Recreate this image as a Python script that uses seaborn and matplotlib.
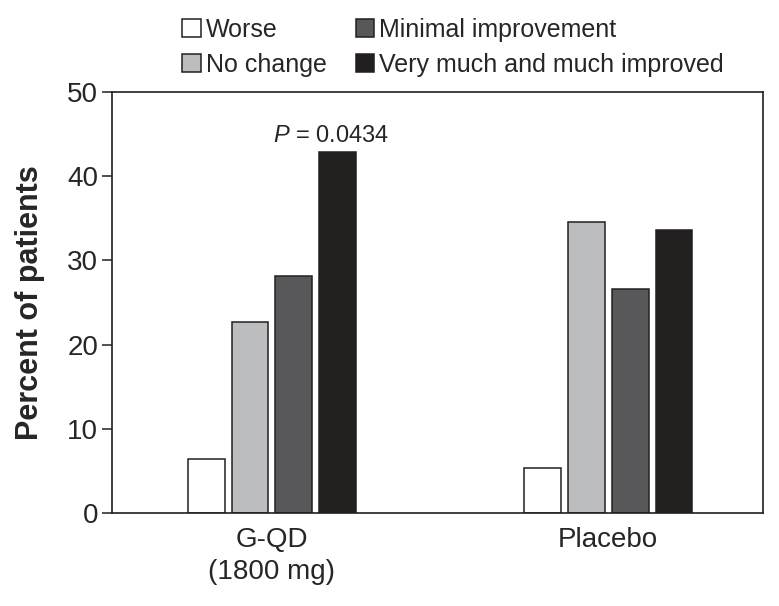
import pandas as pd
import matplotlib.pyplot as plt
import seaborn as sns
from matplotlib.patches import Patch

# --- Data ---
groups = ["G-QD\n(1800 mg)", "Placebo"]
outcomes = ["Worse", "No change", "Minimal improvement", "Very much and much improved"]
worse = [6.4, 5.4]
no_change = [22.7, 34.6]
minimal = [28.2, 26.6]
very_much = [42.9, 33.6]
colors = ["#FFFFFF", "#BCBDBF", "#58585A", "#231F20"]
p_label = "$P$ = 0.0434"

rows = []
for name, vals in zip(outcomes, [worse, no_change, minimal, very_much]):
    for g, v in zip(groups, vals):
        rows.append({"group": g, "outcome": name, "pct": v})
df = pd.DataFrame(rows)

sns.set_style("ticks")
plt.rcParams["font.family"] = ["Liberation Sans", "DejaVu Sans"]
plt.rcParams["mathtext.fontset"] = "custom"
plt.rcParams["mathtext.it"] = "Liberation Sans:italic"
edge = "#231F20"

fig = plt.figure(figsize=(7.79, 6.06), dpi=100)
ax = fig.add_axes([0.144, 0.1535, 0.8355, 0.6945])

sns.barplot(data=df, x="group", y="pct", hue="outcome", hue_order=outcomes,
            palette=colors, width=0.52, gap=0.16, edgecolor=edge, linewidth=1.1,
            legend=False, ax=ax)

ax.set_xlim(-0.475, 1.46)
ax.set_ylim(0, 50)
ax.set_yticks([0, 10, 20, 30, 40, 50])
ax.set_xlabel("")
ax.set_ylabel("Percent of patients", fontsize=22, fontweight="bold", labelpad=16)
ax.tick_params(axis="y", labelsize=20, length=7, width=1.1, color=edge, pad=3)
ax.tick_params(axis="x", labelsize=20, length=0, pad=10)
for lbl in ax.get_xticklabels():
    lbl.set_linespacing(1.3)
for s in ax.spines.values():
    s.set_color(edge)
    s.set_linewidth(1.2)

# p-value above the tallest G-QD bar
top_bar = max(ax.patches, key=lambda p: p.get_height())
ax.text(top_bar.get_x() + top_bar.get_width() / 2 - 0.02, top_bar.get_height() + 0.6,
        p_label, ha="center", va="bottom", fontsize=17)

handles = [Patch(facecolor=c, edgecolor=edge, linewidth=1.1) for c in colors]
fig.legend(handles, outcomes, loc="upper left", bbox_to_anchor=(0.205, 1.008),
           ncol=2, frameon=False, fontsize=18, handlelength=0.75, handleheight=0.75,
           handletextpad=0.2, columnspacing=1.15, labelspacing=0.45)

fig.savefig("out.png", dpi=100)
